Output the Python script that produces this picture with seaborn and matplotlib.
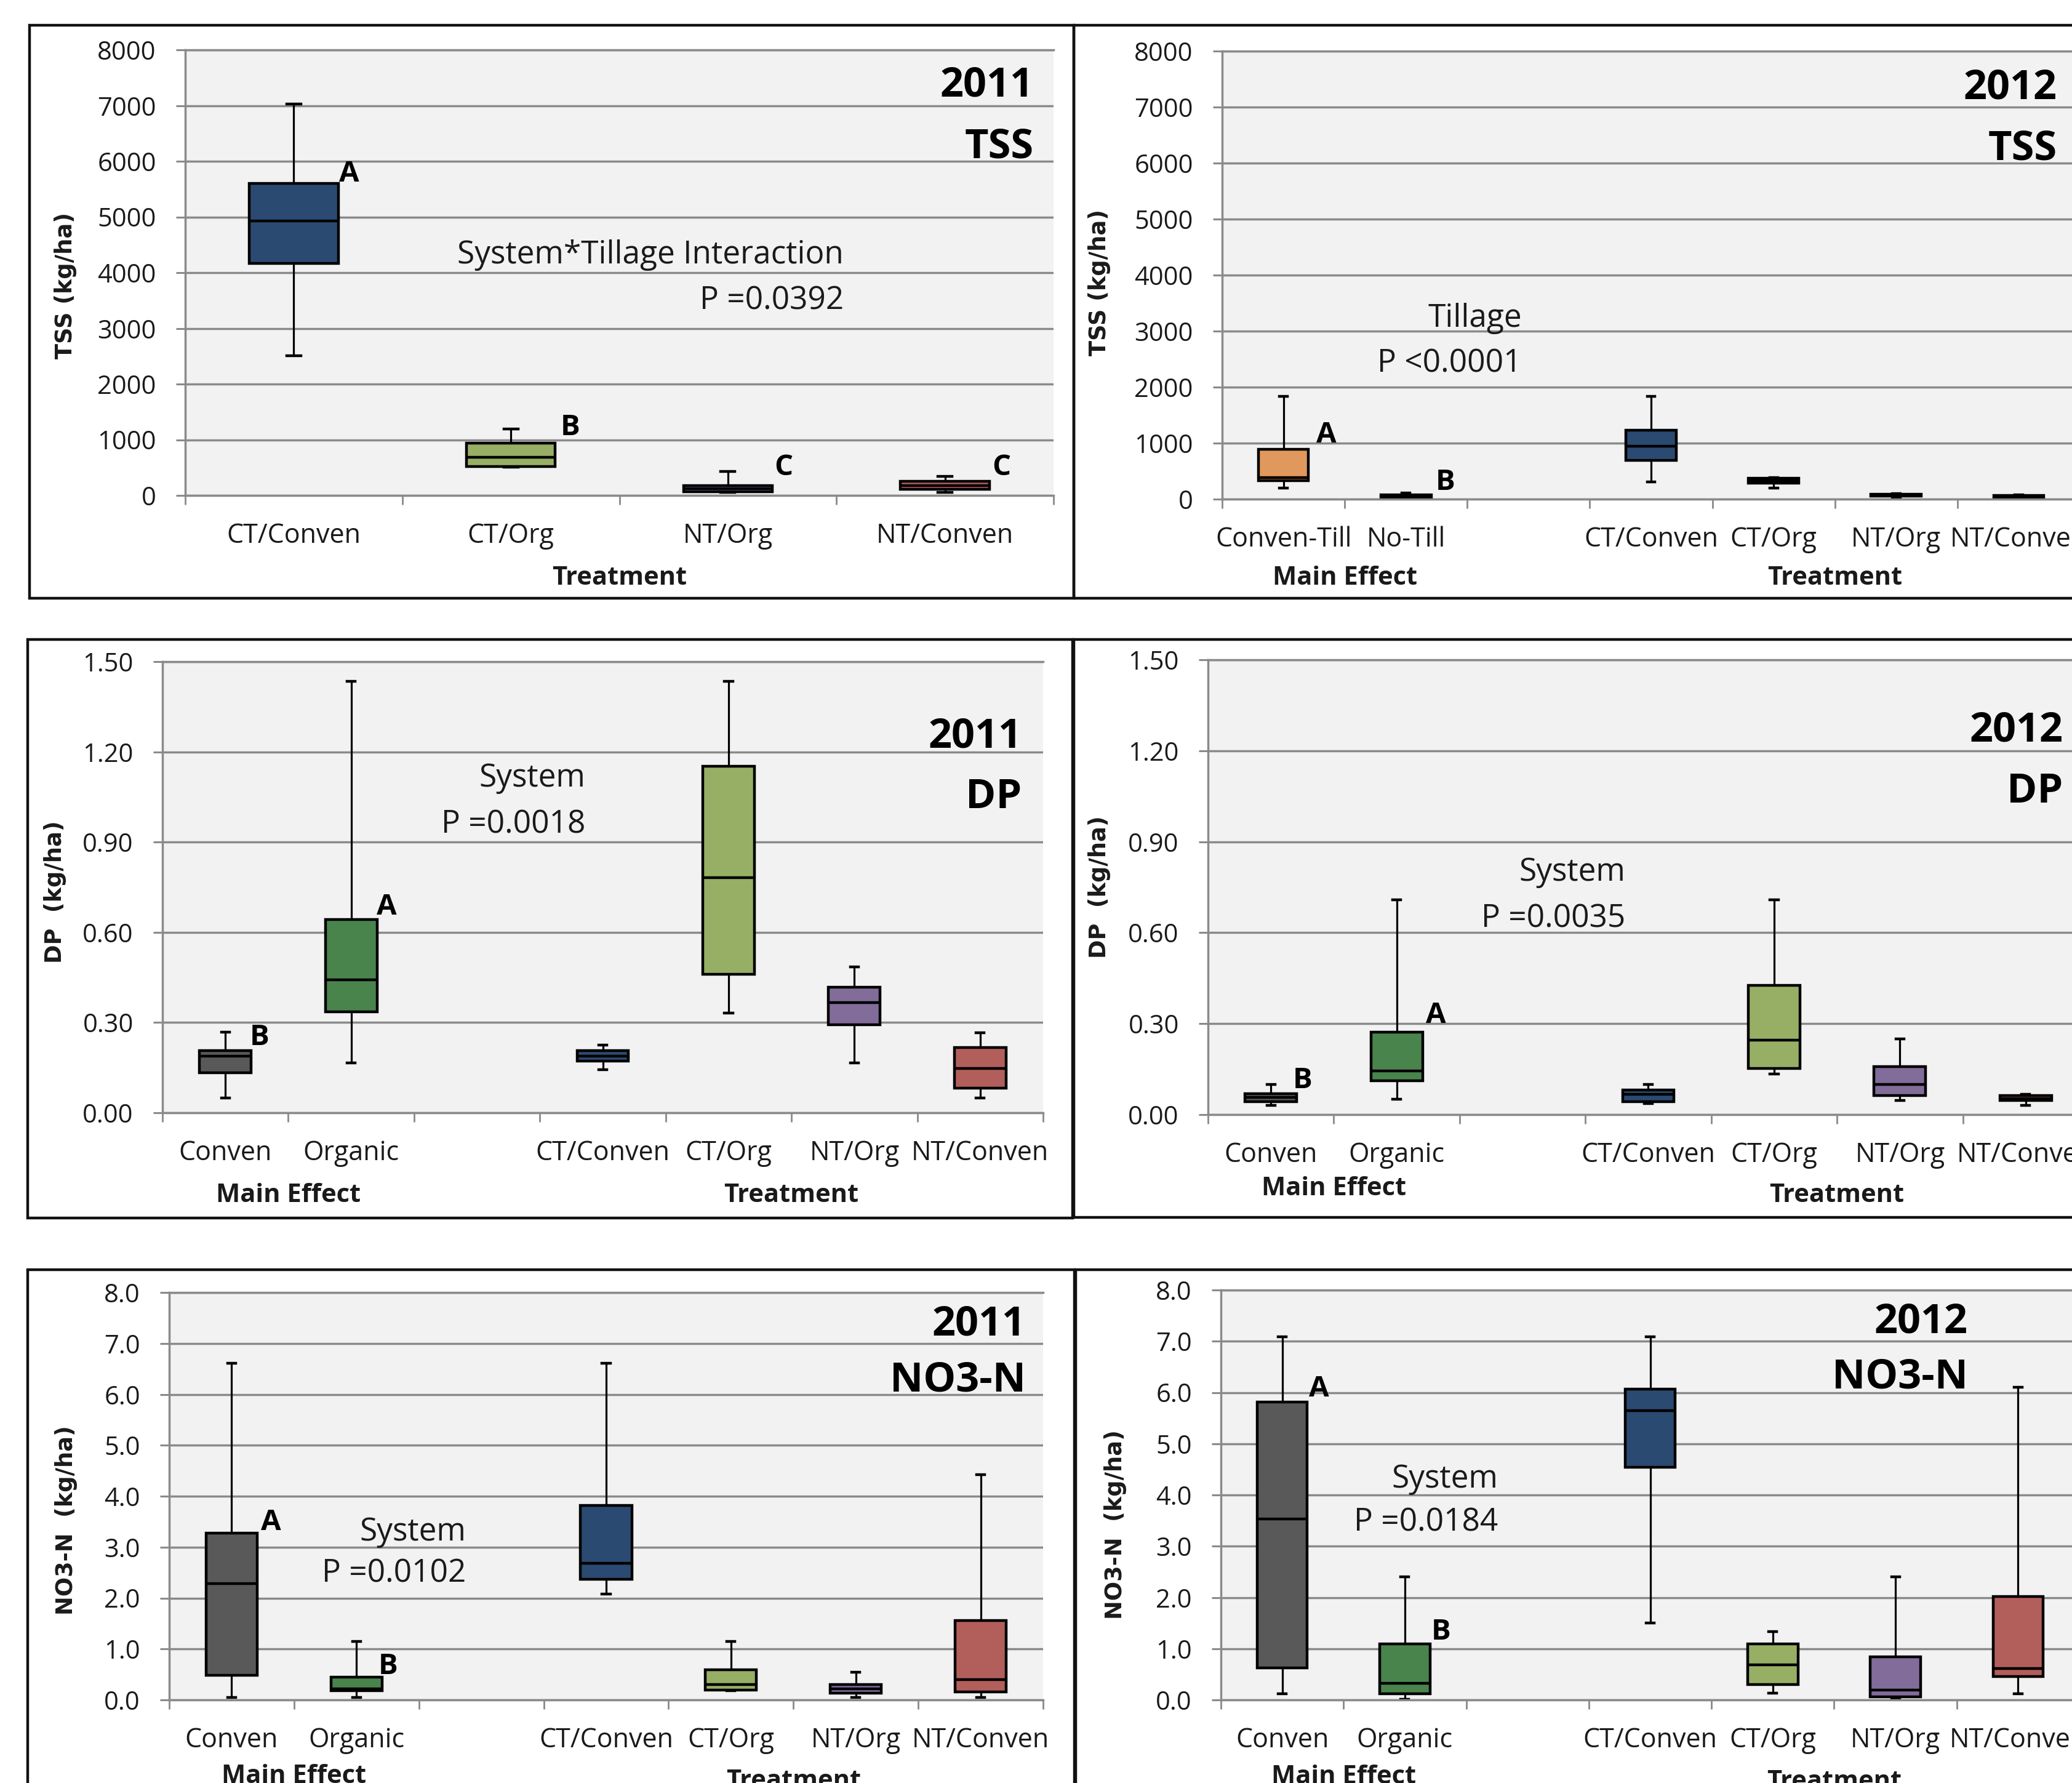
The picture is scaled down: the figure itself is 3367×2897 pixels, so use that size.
import numpy as np
import pandas as pd
import matplotlib
matplotlib.use("Agg")
import matplotlib.pyplot as plt
from matplotlib.patches import Rectangle
from matplotlib.transforms import blended_transform_factory
import seaborn as sns

plt.rcParams["font.family"] = ["Open Sans", "DejaVu Sans"]

W, H = 3367, 2897
GRID = "#8A8A8A"
PLOT_BG = "#F2F2F2"
TXT = "#1A1A1A"

PALETTE = {
    "CT/Conven": "#1F497D",
    "CT/Org": "#9BBB59",
    "NT/Org": "#8064A2",
    "NT/Conven": "#C0504D",
    "Conven": "#595959",
    "Organic": "#3F8E45",
    "Conven-Till": "#F79646",
    "No-Till": "#4D4D4D",
}

# ---------------- five-number summaries (min, Q1, median, Q3, max) ----------------
# TSS 2011 (kg/ha)
tss11_groups = ["CT/Conven", "CT/Org", "NT/Org", "NT/Conven"]
tss11_min = [2510, 505, 55, 55]
tss11_q1 = [4165, 520, 70, 110]
tss11_med = [4925, 690, 125, 180]
tss11_q3 = [5600, 940, 180, 250]
tss11_max = [7030, 1195, 435, 345]

# TSS 2012 (kg/ha)
tss12_groups = ["Conven-Till", "No-Till", "CT/Conven", "CT/Org", "NT/Org", "NT/Conven"]
tss12_min = [200, 20, 310, 200, 35, 30]
tss12_q1 = [325, 35, 695, 290, 50, 35]
tss12_med = [390, 60, 940, 325, 70, 50]
tss12_q3 = [885, 80, 1230, 370, 90, 70]
tss12_max = [1835, 115, 1835, 390, 100, 80]

# DP 2011 (kg/ha)
dp11_groups = ["Conven", "Organic", "CT/Conven", "CT/Org", "NT/Org", "NT/Conven"]
dp11_min = [0.050, 0.165, 0.144, 0.332, 0.165, 0.050]
dp11_q1 = [0.132, 0.336, 0.172, 0.460, 0.292, 0.081]
dp11_med = [0.188, 0.441, 0.188, 0.781, 0.366, 0.147]
dp11_q3 = [0.207, 0.642, 0.207, 1.153, 0.417, 0.216]
dp11_max = [0.269, 1.435, 0.226, 1.435, 0.485, 0.267]

# DP 2012 (kg/ha)
dp12_groups = ["Conven", "Organic", "CT/Conven", "CT/Org", "NT/Org", "NT/Conven"]
dp12_min = [0.031, 0.050, 0.037, 0.133, 0.047, 0.031]
dp12_q1 = [0.043, 0.112, 0.043, 0.153, 0.062, 0.046]
dp12_med = [0.056, 0.145, 0.066, 0.246, 0.099, 0.053]
dp12_q3 = [0.068, 0.271, 0.081, 0.426, 0.159, 0.062]
dp12_max = [0.099, 0.708, 0.099, 0.708, 0.249, 0.066]

# NO3-N 2011 (kg/ha)
no11_groups = ["Conven", "Organic", "CT/Conven", "CT/Org", "NT/Org", "NT/Conven"]
no11_min = [0.046, 0.046, 2.083, 0.185, 0.046, 0.046]
no11_q1 = [0.483, 0.185, 2.367, 0.198, 0.132, 0.152]
no11_med = [2.281, 0.218, 2.678, 0.298, 0.212, 0.397]
no11_q3 = [3.273, 0.450, 3.815, 0.595, 0.298, 1.554]
no11_max = [6.605, 1.144, 6.605, 1.144, 0.549, 4.417]

# NO3-N 2012 (kg/ha)
no12_groups = ["Conven", "Organic", "CT/Conven", "CT/Org", "NT/Org", "NT/Conven"]
no12_min = [0.118, 0.013, 1.499, 0.131, 0.013, 0.118]
no12_q1 = [0.625, 0.118, 4.536, 0.296, 0.066, 0.460]
no12_med = [3.537, 0.329, 5.641, 0.690, 0.197, 0.611]
no12_q3 = [5.818, 1.098, 6.068, 1.098, 0.835, 2.018]
no12_max = [7.087, 2.400, 7.087, 1.328, 2.400, 6.101]

treat_order = ["CT/Conven", "CT/Org", "NT/Org", "NT/Conven"]
system_order = ["Conven", "Organic", " "] + treat_order
tillage_order = ["Conven-Till", "No-Till", " "] + treat_order

fig = plt.figure(figsize=(W / 100, H / 100), dpi=100, facecolor="white")


def frac_rect(x0, y0, x1, y1):
    return [x0 / W, 1 - y1 / H, (x1 - x0) / W, (y1 - y0) / H]


def frame(x0, y0, x1, y1):
    fig.add_artist(Rectangle((x0 / W, 1 - y1 / H), (x1 - x0) / W, (y1 - y0) / H,
                             transform=fig.transFigure, fill=False,
                             edgecolor="#111111", linewidth=3.2))


def panel(box, groups, mins, q1s, meds, q3s, maxs, order, ymax, ystep, fmt,
          ylabel, ylab_xy):
    ax = fig.add_axes(frac_rect(*box))
    df = pd.DataFrame({
        "group": np.repeat(groups, 5),
        "value": np.ravel(np.column_stack([mins, q1s, meds, q3s, maxs])),
    })
    sns.boxplot(data=df, x="group", y="value", hue="group", order=order,
                palette=PALETTE, width=0.41, whis=(0, 100), showfliers=False,
                linecolor="black", linewidth=3.2, legend=False, ax=ax,
                capwidths=0.065, whiskerprops={"linewidth": 2.3})
    n = len(order)
    ax.set_facecolor(PLOT_BG)
    ax.set_xlim(-0.5, n - 0.5)
    ax.set_ylim(0, ymax)
    yt = np.arange(0, ymax + ystep / 2, ystep)
    ax.set_yticks(yt)
    ax.set_yticklabels([fmt.format(v) for v in yt])
    ax.yaxis.grid(True, color=GRID, linewidth=2.5)
    ax.xaxis.grid(False)
    ax.set_axisbelow(True)
    ax.spines["right"].set_visible(False)
    for s in ["left", "bottom", "top"]:
        ax.spines[s].set_color(GRID)
        ax.spines[s].set_linewidth(2.5)
    ax.set_xticks(range(n))
    ax.set_xticklabels([g.strip() for g in order])
    ax.set_xticks(np.arange(-0.5, n, 1.0), minor=True)
    ax.tick_params(axis="x", which="major", length=0, pad=31, labelsize=31,
                   labelcolor=TXT)
    ax.tick_params(axis="x", which="minor", length=11, width=2.0, color=GRID,
                   direction="out")
    ax.tick_params(axis="y", which="major", length=11, width=2.2, color=GRID,
                   pad=23, labelsize=30, labelcolor=TXT)
    ax.set_xlabel("")
    ax.set_ylabel(ylabel, family="DejaVu Sans", fontweight="bold", fontsize=26.5,
                  va="center", color=TXT)
    ax.yaxis.set_label_coords(*ylab_xy)
    return ax


def letters(ax, items):
    for x, y, s in items:
        ax.text(x, y, s, fontsize=34, fontweight="bold", ha="left",
                va="baseline", color="black")


def notes(ax, x, y1, s1, y2, s2):
    ax.text(x, y1, s1, fontsize=37, ha="right", va="baseline", color=TXT)
    ax.text(x, y2, s2, fontsize=37, ha="right", va="baseline", color=TXT)


def tag(ax, x, y1, s1, y2, s2):
    ax.text(x, y1, s1, transform=ax.transAxes, fontsize=48, fontweight="bold",
            ha="right", va="baseline", color="black")
    ax.text(x, y2, s2, transform=ax.transAxes, fontsize=48, fontweight="bold",
            ha="right", va="baseline", color="black")


def group_label(ax, x, y, s):
    tr = blended_transform_factory(ax.transData, ax.transAxes)
    ax.text(x, y, s, transform=tr, fontsize=30, fontweight="bold",
            ha="center", va="baseline", color=TXT)


# ---------------- chart frames ----------------
frame(48, 41, 1745, 972)
frame(1745, 41, 3430, 972)
frame(45, 1039, 1743, 1979)
frame(1745, 1039, 3430, 1978)
frame(45, 2063, 1746, 2950)
frame(1748, 2063, 3430, 2950)

# ---------------- TSS 2011 ----------------
ax1 = panel((301, 81, 1712, 805), tss11_groups, tss11_min, tss11_q1, tss11_med,
            tss11_q3, tss11_max, treat_order, 8000, 1000, "{:.0f}",
            "TSS (kg/ha)", (-0.1375, 0.471))
letters(ax1, [(0.21, 5635, "A"), (1.228, 1078, "B"), (2.214, 366, "C"),
              (3.217, 366, "C")])
notes(ax1, 2.534, 4166, "System*Tillage Interaction", 3348, "P =0.0392")
tag(ax1, 0.977, 0.896, "2011", 0.758, "TSS")
group_label(ax1, 1.5, -0.200, "Treatment")

# ---------------- TSS 2012 ----------------
ax2 = panel((1986, 83, 3380, 811), tss12_groups, tss12_min, tss12_q1, tss12_med,
            tss12_q3, tss12_max, tillage_order, 8000, 1000, "{:.0f}",
            "TSS (kg/ha)", (-0.143, 0.4835))
letters(ax2, [(0.267, 1010, "A"), (1.243, 165, "B")])
notes(ax2, 1.945, 3077, "Tillage", 2264, "P <0.0001")
tag(ax2, 0.973, 0.893, "2012", 0.758, "TSS")
group_label(ax2, 0.5, -0.191, "Main Effect")
group_label(ax2, 4.5, -0.191, "Treatment")

# ---------------- DP 2011 ----------------
ax3 = panel((264, 1075, 1695, 1808), dp11_groups, dp11_min, dp11_q1, dp11_med,
            dp11_q3, dp11_max, system_order, 1.5, 0.3, "{:.2f}",
            "DP  (kg/ha)", (-0.1216, 0.49))
letters(ax3, [(0.194, 0.2256, "B"), (1.2, 0.658, "A")])
notes(ax3, 2.86, 1.085, "System", 0.931, "P =0.0018")
tag(ax3, 0.976, 0.810, "2011", 0.675, "DP")
group_label(ax3, 0.5, -0.198, "Main Effect")
group_label(ax3, 4.5, -0.198, "Treatment")

# ---------------- DP 2012 ----------------
ax4 = panel((1963, 1072, 3394, 1811), dp12_groups, dp12_min, dp12_q1, dp12_med,
            dp12_q3, dp12_max, system_order, 1.5, 0.3, "{:.2f}",
            "DP  (kg/ha)", (-0.123, 0.50))
letters(ax4, [(0.176, 0.087, "B"), (1.23, 0.302, "A")])
notes(ax4, 2.82, 0.771, "System", 0.619, "P =0.0035")
tag(ax4, 0.971, 0.821, "2012", 0.686, "DP")
group_label(ax4, 0.5, -0.177, "Main Effect")
group_label(ax4, 4.5, -0.192, "Treatment")

# ---------------- NO3-N 2011 ----------------
ax5 = panel((275, 2100, 1695, 2762), no11_groups, no11_min, no11_q1, no11_med,
            no11_q3, no11_max, system_order, 8.0, 1.0, "{:.1f}",
            "NO3-N  (kg/ha)", (-0.118, 0.441))
letters(ax5, [(0.234, 3.34, "A"), (1.176, 0.51, "B")])
notes(ax5, 1.878, 3.124, "System", 2.32, "P =0.0102")
tag(ax5, 0.980, 0.895, "2011", 0.758, "NO3-N")
group_label(ax5, 0.5, -0.204, "Main Effect")
group_label(ax5, 4.5, -0.216, "Treatment")

# ---------------- NO3-N 2012 ----------------
ax6 = panel((1984, 2096, 3379, 2762), no12_groups, no12_min, no12_q1, no12_med,
            no12_q3, no12_max, system_order, 8.0, 1.0, "{:.1f}",
            "NO3-N  (kg/ha)", (-0.1226, 0.428))
letters(ax6, [(0.217, 5.92, "A"), (1.215, 1.18, "B")])
notes(ax6, 1.757, 4.144, "System", 3.303, "P =0.0184")
tag(ax6, 0.870, 0.895, "2012", 0.760, "NO3-N")
group_label(ax6, 0.5, -0.204, "Main Effect")
group_label(ax6, 4.5, -0.216, "Treatment")

fig.savefig("out.png", dpi=100, facecolor="white")
